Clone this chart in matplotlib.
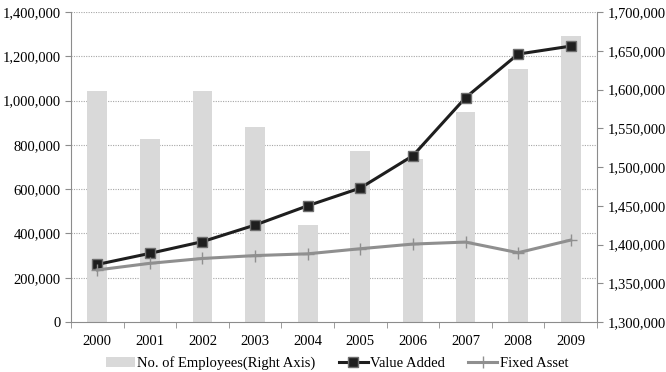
import numpy as np
import matplotlib
matplotlib.use("Agg")
import matplotlib.pyplot as plt
import matplotlib.transforms as mtransforms
from matplotlib.ticker import FuncFormatter, MultipleLocator, FixedLocator

plt.rcParams['font.family'] = ['Liberation Serif', 'DejaVu Serif']

years = ['2000', '2001', '2002', '2003', '2004', '2005', '2006', '2007', '2008', '2009']
employees = [1598000, 1536000, 1598000, 1552000, 1425000, 1521000, 1510000, 1571000, 1626000, 1669000]
value_added = [260000, 310000, 363000, 438000, 525000, 605000, 751000, 1013000, 1210000, 1246000]
fixed_asset = [235000, 265000, 287000, 300000, 308000, 331000, 352000, 361000, 313000, 370000]

x = np.arange(len(years))
comma = FuncFormatter(lambda v, p: f"{int(v):,}")
axis_gray = '#8c8c8c'
fs = 10.5

fig = plt.figure(figsize=(6.66, 3.72), dpi=100)
ax = fig.add_axes([0.1066, 0.1344, 0.7898, 0.8333])
ax2 = ax.twinx()
ax.set_zorder(ax2.get_zorder() + 1)
ax.patch.set_visible(False)

ax.set_ylim(0, 1400000)
ax2.set_ylim(1300000, 1700000)
ax.set_xlim(-0.5, 9.5)

# grid of the left axis, drawn behind the bars
gtrans = mtransforms.blended_transform_factory(ax2.transAxes, ax.transData)
for gy in np.arange(200000, 1400001, 200000):
    ax2.plot([0, 1], [gy, gy], transform=gtrans, color='#a6a6a6', lw=0.8,
             ls=(0, (1, 1.2)), zorder=0, scalex=False, scaley=False)

bars = ax2.bar(x, employees, width=0.38, color='#d9d9d9', zorder=1,
               label='No. of Employees(Right Axis)')
va, = ax.plot(x, value_added, color='#1e1e1e', lw=2.2, marker='s', ms=7,
              mfc='#1e1e1e', mec='#6e6e6e', mew=1, label='Value Added')
fa, = ax.plot(x, fixed_asset, color='#8f8f8f', lw=2.2, marker='+', ms=8,
              mew=1, label='Fixed Asset')

ax.yaxis.set_major_locator(MultipleLocator(200000))
ax.yaxis.set_major_formatter(comma)
ax2.yaxis.set_major_locator(MultipleLocator(50000))
ax2.yaxis.set_major_formatter(comma)

ax.set_xticks(x)
ax.set_xticklabels(years)
ax.xaxis.set_minor_locator(FixedLocator(np.arange(-0.5, 10, 1)))
ax.tick_params(axis='x', which='major', length=0, pad=9, labelsize=fs)
ax.tick_params(axis='x', which='minor', length=4, direction='out', color=axis_gray)
ax.tick_params(axis='y', length=4, direction='out', color=axis_gray, labelsize=fs)
ax2.tick_params(axis='y', length=4, direction='out', color=axis_gray, labelsize=fs)

for a in (ax, ax2):
    a.spines['top'].set_visible(False)
    for s in ('left', 'right', 'bottom'):
        a.spines[s].set_color(axis_gray)
ax.spines['right'].set_visible(False)
ax2.spines['left'].set_visible(False)
ax2.spines['bottom'].set_visible(False)

fig.legend(handles=[bars, va, fa], loc='lower center', bbox_to_anchor=(0.506, -0.022),
           ncol=3, frameon=False, fontsize=fs, handlelength=2.0, columnspacing=1.6,
           handletextpad=0.15, borderaxespad=0.3)

fig.savefig('out.png', dpi=100)
